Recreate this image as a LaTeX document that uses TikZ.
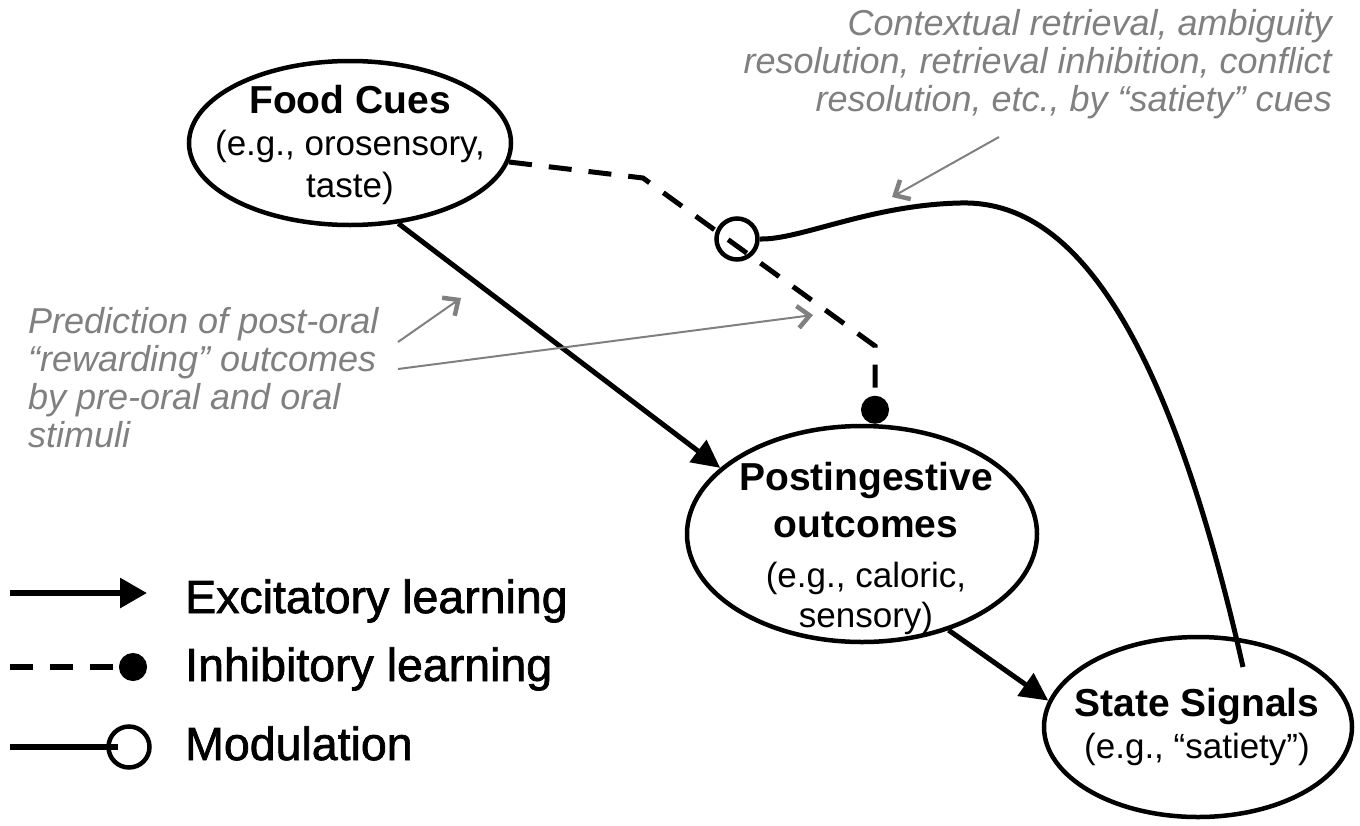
\documentclass[tikz,border=0pt]{standalone}
\usepackage{fontspec}
\setmainfont{Liberation Sans}
\newfontfamily\legfont[FakeBold=1.5]{Liberation Sans}
\usetikzlibrary{arrows.meta,shapes.geometric,calc}
\definecolor{notegrey}{RGB}{128,128,128}
\newcommand\hdfont{\fontsize{39}{42}\selectfont\bfseries}
\begin{document}
\begin{tikzpicture}[x=1pt,y=-1pt,
  ell/.style={draw, ellipse, line width=4.5pt, inner sep=0pt},
  exc/.style={line width=5pt, -{Triangle[length=28pt,width=27pt]}},
  inh/.style={line width=5pt, dash pattern=on 23pt off 17pt, -{Circle[length=28pt]}},
  modl/.style={line width=5pt},
  modring/.style={circle, draw, line width=4.5pt, minimum size=41pt, inner sep=0pt},
  note/.style={font=\fontsize{36}{38}\selectfont\itshape, text=notegrey, inner sep=0pt},
  notearrow/.style={draw=notegrey, line width=2pt, -{Straight Barb[length=12pt,width=22pt,line width=4.5pt]}},
  lbl/.style={inner sep=0pt, font=\fontsize{35}{42}\selectfont, align=center},
  leg/.style={inner sep=0pt, anchor=base west, font=\legfont\fontsize{46.5}{50}\selectfont}
]
\useasboundingbox (0,0) rectangle (1360,825);

% ellipses
\node[ell, minimum width=322pt, minimum height=164pt] (fc) at (350,143) {};
\node[ell, minimum width=350pt, minimum height=216pt] (po) at (862,534) {};
\node[ell, minimum width=308pt, minimum height=180pt] (ss) at (1198,727) {};

\node[lbl, anchor=base] (fct) at (350,197) {{\hdfont Food Cues}\\(e.g., orosensory,\\taste)};
\node[lbl, anchor=base] (pot) at (866,627) {{\hdfont Postingestive}\\[5pt]{\hdfont outcomes}\\[8pt](e.g., caloric,\\[-2pt]sensory)};
\node[lbl, anchor=base] (sst) at (1197,758) {{\hdfont State Signals}\\(e.g., “satiety”)};

% excitatory connectors
\draw[exc] (fc.-59) -- (po.155);
\draw[exc] (po.-48) -- (ss.170);

% inhibitory connector
\coordinate (k1) at (643,178);
\coordinate (k2) at (875,346);
\draw[inh] (fc) -- (k1) -- (k2) -- (k2 |- po.north);

% modulation
\node[modring] (modc) at (737,239) {};
\coordinate (m1) at (960,203);
\coordinate (mend) at (1243,667);
\draw[modl] (modc.east) .. controls (800,240) and (870,205) .. (m1) .. controls (1060,200) and (1160,300) .. (mend);

% notes
\node[note, anchor=base east, align=right] (ntop) at (1332,111) {Contextual retrieval, ambiguity\\resolution, retrieval inhibition, conflict\\resolution, etc., by “satiety” cues};
\node[note, anchor=base west, align=left] (nleft) at (28,447) {Prediction of post-oral\\“rewarding” outcomes\\by pre-oral and oral\\stimuli};
\coordinate (a1s) at (999,137); \coordinate (a1e) at (892,197);
\draw[notearrow] (a1s) -- (a1e);
\coordinate (a2s) at (398,342); \coordinate (a2e) at (461,298);
\draw[notearrow] (a2s) -- (a2e);
\coordinate (a3s) at (398,369); \coordinate (a3e) at (813,315);
\draw[notearrow] (a3s) -- (a3e);

% legend
\coordinate (l1a) at (10,593); \coordinate (l1b) at (147,593);
\draw[line width=6pt, -{Triangle[length=27pt,width=29pt]}] (l1a) -- (l1b);
\node[leg] (l1t) at (185,613) {Excitatory learning};
\coordinate (l2a) at (10,667); \coordinate (l2b) at (147,667);
\draw[line width=6pt, dash pattern=on 23pt off 17pt, -{Circle[length=28pt]}] (l2a) -- (l2b);
\node[leg] (l2t) at (185,681) {Inhibitory learning};
\coordinate (l3a) at (10,747);
\node[modring] (l3c) at (129,747) {};
\draw[line width=6pt] (l3a) -- ([xshift=12pt]l3c.west);
\node[leg] (l3t) at (185,760) {Modulation};
\end{tikzpicture}
\end{document}
